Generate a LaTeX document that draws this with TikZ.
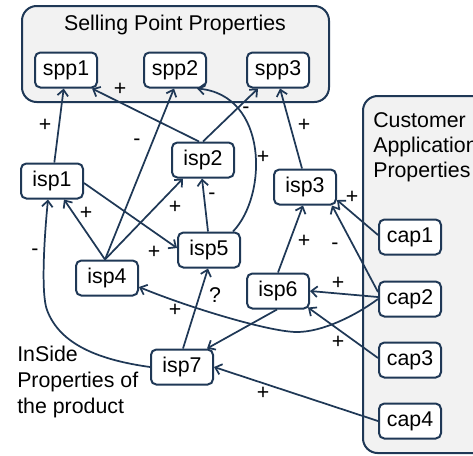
\documentclass[tikz,border=0pt]{standalone}
\usepackage{fontspec}
\setmainfont{Liberation Sans}
\usetikzlibrary{arrows.meta,calc}
\definecolor{navy}{RGB}{31,56,86}
\definecolor{grpfill}{RGB}{242,242,242}
\begin{document}
\begin{tikzpicture}[x=0.75pt,y=-0.75pt,
  font=\fontsize{16pt}{18.75pt}\selectfont,
  grp/.style={draw=navy, fill=grpfill, line width=1.5pt, rounded corners=11pt},
  prop/.style={draw=navy, fill=white, line width=1.5pt, rounded corners=4pt,
               minimum width=46.5pt, minimum height=26.25pt, inner sep=0pt},
  link/.style={draw=navy, line width=1.3pt, -{Straight Barb[length=4.5pt,width=8pt]}},
  sign/.style={inner sep=0pt},
  grptext/.style={anchor=base west, align=left, inner sep=0pt}
]
\useasboundingbox (0,0) rectangle (473,455);
\clip (0,0) rectangle (473,455);

% group boxes
\draw[grp] (22,6) rectangle (329,102);
\draw[grp] (363,96) rectangle (490,453);

\node[anchor=base] (sptitle) at (175,30) {Selling Point Properties};
\node[grptext] (captitle) at (373,177) {Customer\\Application\\Properties};
\node[grptext, font=\fontsize{16pt}{19.5pt}\selectfont] (isptitle) at (17,413) {InSide\\Properties of\\the product};

% property nodes
\node[prop] (spp1) at (66,70) {spp1};
\node[prop] (spp2) at (175,70) {spp2};
\node[prop] (spp3) at (278,70) {spp3};
\node[prop] (isp1) at (52,181) {isp1};
\node[prop] (isp2) at (203,160) {isp2};
\node[prop] (isp3) at (305,187) {isp3};
\node[prop] (isp4) at (107,278) {isp4};
\node[prop] (isp5) at (209,250) {isp5};
\node[prop] (isp6) at (278,291) {isp6};
\node[prop] (isp7) at (182,367) {isp7};
\node[prop] (cap1) at (410,237) {cap1};
\node[prop] (cap2) at (410,299) {cap2};
\node[prop] (cap3) at (410,360) {cap3};
\node[prop] (cap4) at (410,421) {cap4};

\coordinate (i4t) at ($(isp4.north)+(-2,0)$);

% connectors
\draw[link] (isp1) -- (spp1);
\draw[link] ($(isp2.north)+(-4,0)$) -- ($(spp1.south)+(26,0)$);
\draw[link] (i4t) -- ($(spp2.south)+(-1,0)$);
\draw[link] ($(isp5.north)+(24,0)$) .. controls (268,195) and (268,95) .. ($(spp2.south)+(22,0)$);
\draw[link] (isp2.north) -- ($(spp3.south)+(-20,0)$);
\draw[link] ($(isp3.north)+(-3,0)$) -- ($(spp3.south)+(2,0)$);
\draw[link] ($(isp1.east)+(0,2)$) -- ($(isp5.west)+(0,-2)$);
\draw[link] (i4t) -- ($(isp1.south)+(12,0)$);
\draw[link] (i4t) -- ($(isp2.south)+(-20,0)$);
\draw[link] ($(isp5.north)+(-1,0)$) -- ($(isp2.south)+(-1,0)$);
\draw[link] (isp7.west) .. controls (100,360) and (60,345) .. (47,310)
            .. controls (41,294) and (44,240) .. ($(isp1.south)+(-4,0)$);
\draw[link] ($(isp7.north)+(1,0)$) -- ($(isp5.south)+(-1,0)$);
\draw[link] ($(isp6.south)+(-1,0)$) -- ($(isp7.north)+(25,0)$);
\draw[link] (isp6.north) -- ($(isp3.south)+(-2,0)$);
\draw[link] ($(cap2.west)+(0,-7)$) -- ($(isp3.south)+(27,0)$);
\draw[link] ($(cap1.west)+(0,-2)$) -- ($(isp3.east)+(0,13)$);
\draw[link] ($(cap2.west)+(0,-2)$) -- (isp6.east);
\draw[link] ($(cap3.west)+(0,-2)$) -- ($(isp6.south east)+(-2,-2)$);
\draw[link] (cap4.west) -- (isp7.east);
\draw[link] (cap2.west) .. controls (355,316) and (322,332) .. (297,332)
            .. controls (270,332) and (190,308) .. ($(isp4.east)+(0,9)$);

% signs
\node[sign] (s1) at (45,125) {+};
\node[sign] (s2) at (120,89) {+};
\node[sign] (s3) at (137,142) {-};
\node[sign] (s4) at (246,110) {-};
\node[sign] (s5) at (263,157) {+};
\node[sign] (s6) at (304,125) {+};
\node[sign] (s7) at (352,197) {+};
\node[sign] (s8) at (86,213) {+};
\node[sign] (s9) at (175,207) {+};
\node[sign] (s10) at (212,196) {-};
\node[sign] (s11) at (154,252) {+};
\node[sign] (s12) at (35,252) {-};
\node[sign] (s13) at (215,295) {?};
\node[sign] (s14) at (175,310) {+};
\node[sign] (s15) at (304,241) {+};
\node[sign] (s16) at (335,246) {-};
\node[sign] (s17) at (338,283) {+};
\node[sign] (s18) at (338,342) {+};
\node[sign] (s19) at (263,393) {+};
\end{tikzpicture}
\end{document}
